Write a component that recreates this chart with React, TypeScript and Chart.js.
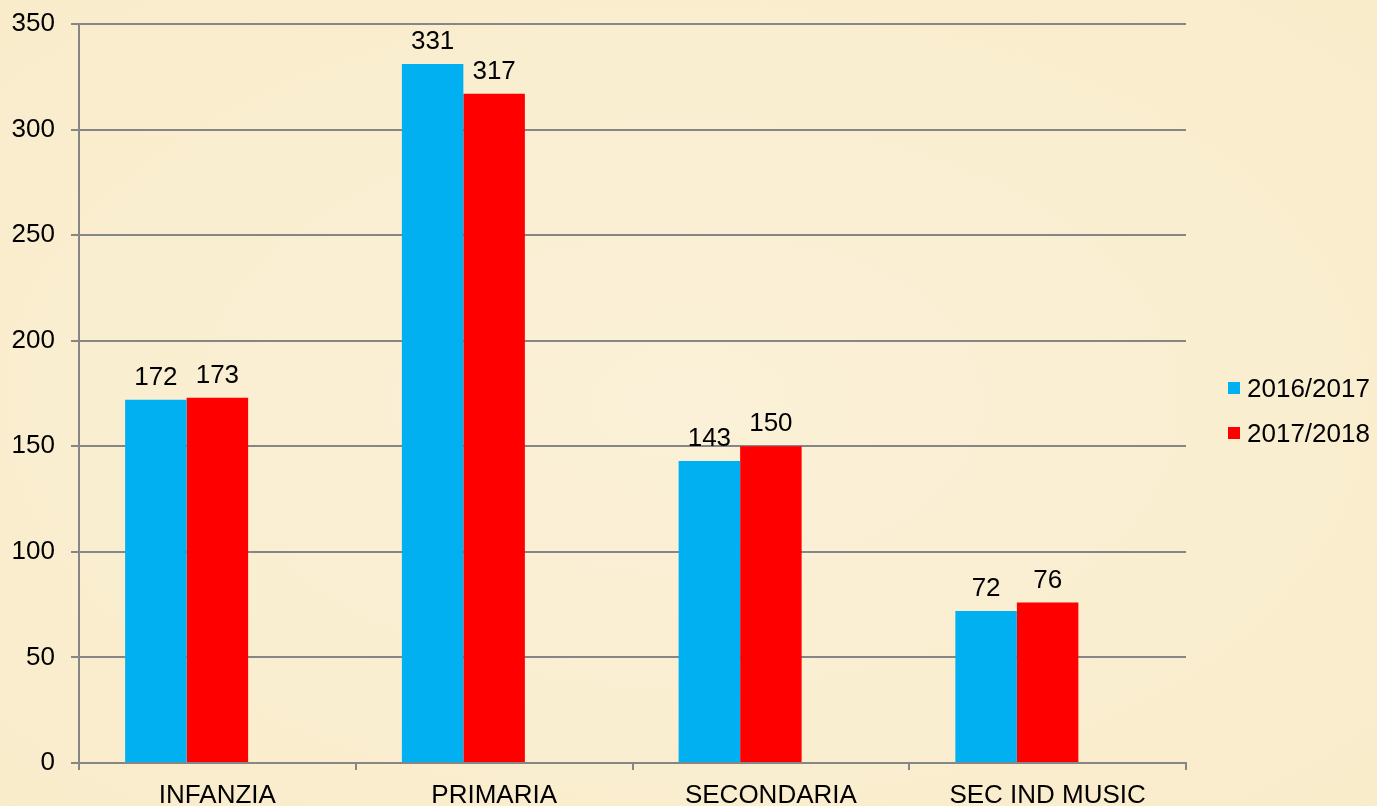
import React, { useEffect, useRef } from "react";
import { Chart, registerables } from "chart.js";

Chart.register(...registerables);

const categories = ["INFANZIA", "PRIMARIA", "SECONDARIA", "SEC IND MUSIC"];
const series2016 = [172, 331, 143, 72];
const series2017 = [173, 317, 150, 76];
const seriesLabels = ["2016/2017", "2017/2018"];
const seriesColors = ["#00B0F0", "#FF0000"];
const yTicks = [0, 50, 100, 150, 200, 250, 300, 350];

const FONT = "Arial, 'Liberation Sans', sans-serif";
const FS = 26;

const valueLabels = {
  id: "valueLabels",
  afterDatasetsDraw(chart: any) {
    const ctx = chart.ctx;
    ctx.save();
    ctx.font = `${FS}px ${FONT}`;
    ctx.fillStyle = "#000";
    ctx.textAlign = "center";
    ctx.textBaseline = "bottom";
    [0, 1].forEach((di) => {
      const meta = chart.getDatasetMeta(di);
      meta.data.forEach((el: any, i: number) => {
        const v = chart.data.datasets[di].data[i];
        ctx.fillText(String(v), el.x, el.y - 9);
      });
    });
    ctx.restore();
  },
};

const customLegend = {
  id: "customLegend",
  afterDraw(chart: any) {
    const ctx = chart.ctx;
    ctx.save();
    ctx.font = `${FS}px ${FONT}`;
    ctx.textBaseline = "middle";
    ctx.textAlign = "left";
    const ys = [388, 433];
    seriesLabels.forEach((lab, i) => {
      ctx.fillStyle = seriesColors[i];
      ctx.fillRect(1228, ys[i] - 6, 12, 12);
      ctx.fillStyle = "#000";
      ctx.fillText(lab, 1247, ys[i] + 2);
    });
    ctx.restore();
  },
};

export default function App() {
  const ref = useRef<HTMLCanvasElement>(null);
  useEffect(() => {
    const chart = new Chart(ref.current!, {
      type: "bar",
      data: {
        labels: categories,
        datasets: [
          { label: seriesLabels[0], data: series2016, backgroundColor: seriesColors[0], categoryPercentage: 0.6667, barPercentage: 1 },
          { label: seriesLabels[1], data: series2017, backgroundColor: seriesColors[1], categoryPercentage: 0.6667, barPercentage: 1 },
          { label: "", data: [], backgroundColor: "transparent", categoryPercentage: 0.6667, barPercentage: 1 },
        ],
      },
      options: {
        animation: false,
        responsive: false,
        layout: { padding: { top: 24, right: 191, left: 0, bottom: 0 } },
        plugins: { legend: { display: false }, tooltip: { enabled: false } },
        scales: {
          x: {
            grid: { offset: true, drawOnChartArea: false, drawTicks: true, tickLength: 7, color: "#868686", lineWidth: 2 },
            border: { color: "#868686", width: 2 },
            ticks: { color: "#000", font: { family: FONT, size: FS }, padding: 10, maxRotation: 0 },
            afterFit: (s: any) => { s.height = 43; s.paddingLeft = 0; s.paddingRight = 0; },
          },
          y: {
            min: 0,
            max: 350,
            afterBuildTicks: (s: any) => { s.ticks = yTicks.map((v) => ({ value: v })); },
            grid: { color: "#868686", lineWidth: 2, tickLength: 8 },
            border: { color: "#868686", width: 2 },
            ticks: { color: "#000", font: { family: FONT, size: FS }, padding: 16 },
            afterFit: (s: any) => { s.width = 79; s.paddingTop = 0; s.paddingBottom = 0; },
          },
        },
      },
      plugins: [valueLabels, customLegend],
    });
    return () => chart.destroy();
  }, []);
  return (
    <div style={{ position: "fixed", left: 0, top: 0, width: 1377, height: 806, background: "radial-gradient(ellipse at 50% 50%, #FBF1D8 0%, #F9ECCB 100%)" }}>
      <canvas ref={ref} width={1377} height={806} style={{ display: "block" }} />
    </div>
  );
}
